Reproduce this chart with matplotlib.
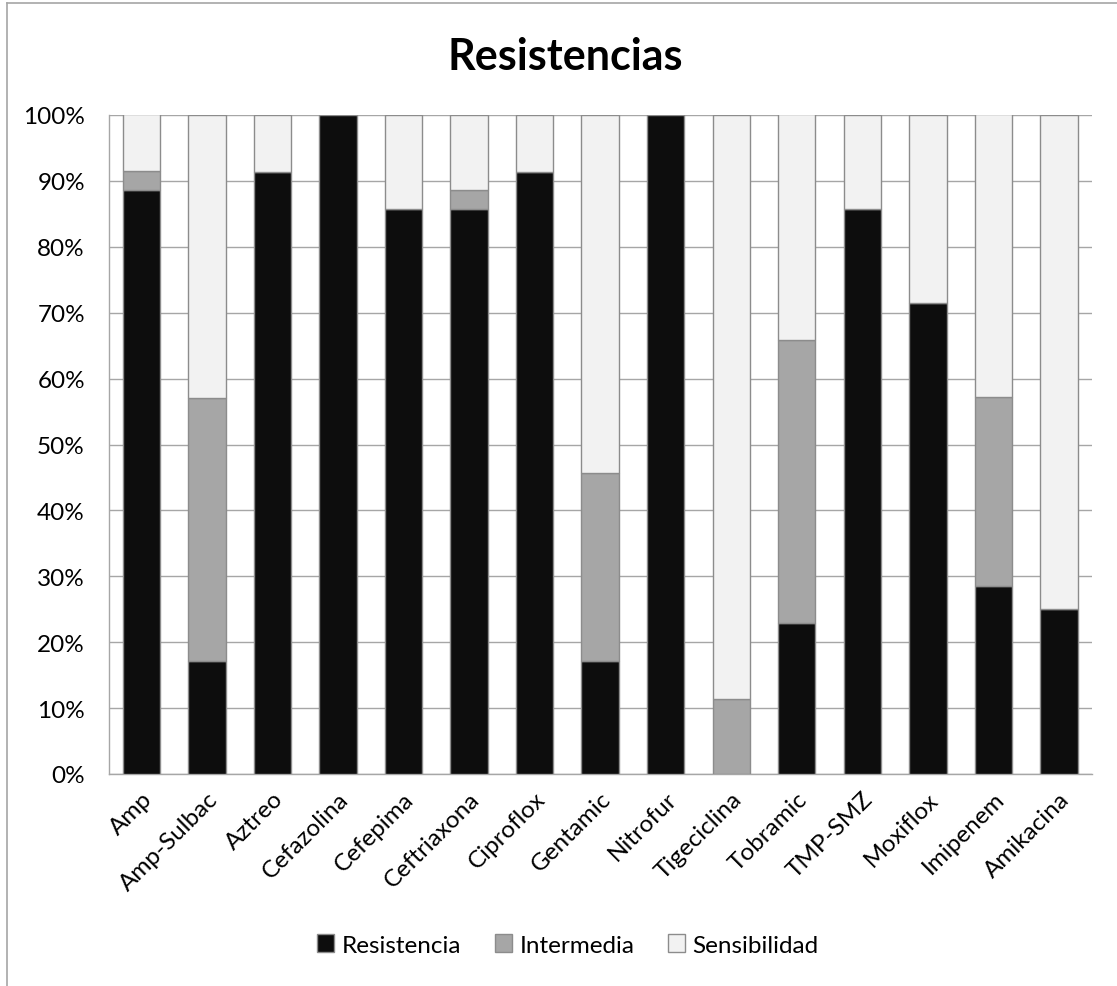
import matplotlib
matplotlib.use("Agg")
import matplotlib.pyplot as plt
from matplotlib.patches import Rectangle
from matplotlib.ticker import FuncFormatter, MultipleLocator
import numpy as np

plt.rcParams['font.family'] = ['Lato', 'DejaVu Sans']

categories = ["Amp", "Amp-Sulbac", "Aztreo", "Cefazolina", "Cefepima",
              "Ceftriaxona", "Ciproflox", "Gentamic", "Nitrofur", "Tigeciclina",
              "Tobramic", "TMP-SMZ", "Moxiflox", "Imipenem", "Amikacina"]

# Percentages per antibiotic
resistencia = [88.6, 17.1, 91.4, 100.0, 85.7, 85.7, 91.4, 17.1, 100.0, 0.0,
               22.9, 85.7, 71.4, 28.6, 25.0]
intermedia = [2.9, 40.0, 0.0, 0.0, 0.0, 2.9, 0.0, 28.6, 0.0, 11.4,
              42.9, 0.0, 0.0, 28.6, 0.0]
sensibilidad = [8.6, 42.9, 8.6, 0.0, 14.3, 11.4, 8.6, 54.3, 0.0, 88.6,
                34.3, 14.3, 28.6, 42.9, 75.0]

series_names = ["Resistencia", "Intermedia", "Sensibilidad"]
colors = ["#0d0d0d", "#a6a6a6", "#f2f2f2"]
edge = "#8c8c8c"

W, H = 1117, 987
fig = plt.figure(figsize=(W / 100, H / 100), dpi=100)
ax = fig.add_axes([108.5 / W, 1 - 775 / H, (1091.7 - 108.5) / W, (775 - 116) / H])

x = np.arange(len(categories))
width = 0.57
bottom = np.zeros(len(categories))
handles = []
for name, vals, col in zip(series_names, [resistencia, intermedia, sensibilidad], colors):
    vals = np.array(vals, dtype=float)
    mask = vals > 0
    ax.bar(x[mask], vals[mask], width, bottom=bottom[mask], color=col,
           edgecolor=edge, linewidth=1.0, zorder=3)
    bottom += vals
    handles.append(Rectangle((0, 0), 1, 1, facecolor=col, edgecolor=edge, linewidth=1.0))

ax.set_xlim(-0.5, len(categories) - 0.5)
ax.set_ylim(0, 100)
ax.yaxis.set_major_locator(MultipleLocator(10))
ax.yaxis.set_major_formatter(FuncFormatter(lambda v, p: f"{int(round(v))}%"))
ax.grid(axis='y', color="#a6a6a6", linewidth=1.0, zorder=0)
ax.set_axisbelow(True)

for side in ["top", "right"]:
    ax.spines[side].set_visible(False)
ax.spines["left"].set_color("#a6a6a6")
ax.spines["bottom"].set_color("#a6a6a6")
ax.spines["left"].set_linewidth(1.0)
ax.spines["bottom"].set_linewidth(1.0)

ax.tick_params(axis='y', length=0, pad=17, labelsize=17.5, labelcolor="black")
ax.tick_params(axis='x', length=0, pad=10, labelsize=17.5, labelcolor="black")
ax.set_xticks(x)
ax.set_xticklabels(categories, rotation=45, ha='right', va='top',
                   rotation_mode='anchor')

fig.text(565 / W, 1 - 57 / H, "Resistencias", ha='center', va='center',
         fontsize=31, fontweight='bold')

leg = fig.legend(handles, series_names, loc='center', ncol=3,
                 bbox_to_anchor=(568 / W, 1 - 946 / H), frameon=False,
                 fontsize=17.5, handlelength=0.7, handleheight=0.7,
                 handletextpad=0.3, columnspacing=1.4)

# Chart-area border
fig.add_artist(plt.Line2D([6.5 / W, 6.5 / W], [0, 1 - 4 / H], color="#a6a6a6",
                          linewidth=1.2, transform=fig.transFigure))
fig.add_artist(plt.Line2D([6.5 / W, 1], [1 - 4 / H, 1 - 4 / H], color="#a6a6a6",
                          linewidth=1.2, transform=fig.transFigure))

fig.savefig("out.png", dpi=100, facecolor="white")
